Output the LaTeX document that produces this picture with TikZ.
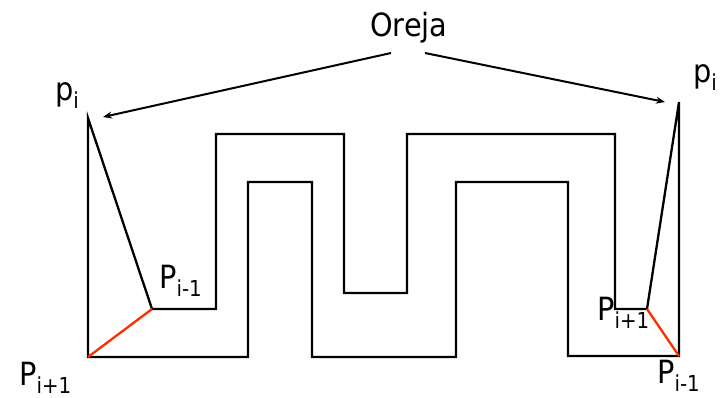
\documentclass[tikz,border=0pt]{standalone}
\usepackage{fontspec}
\setmainfont{DejaVu Sans Condensed}
\usetikzlibrary{arrows.meta}
\newcommand{\lblsub}[2]{#1\raisebox{-8pt}{\fontsize{22}{22}\selectfont #2}}
\definecolor{earred}{RGB}{255,45,0}
\begin{document}
\begin{tikzpicture}[x=1pt,y=-1pt,
  edge/.style={line width=2.3pt,line join=miter,line cap=rect},
  earedge/.style={line width=2.3pt,draw=earred},
  lbl/.style={anchor=base west,inner sep=0pt,font=\fontsize{32}{32}\selectfont},
  pointer/.style={line width=2pt,-{Stealth[length=9pt,width=7pt]}}]
\useasboundingbox (0,0) rectangle (723,397);
% vertices
\coordinate (LPn) at (88,357);
\coordinate (Lpi) at (88,118);
\coordinate (LPp) at (152,309);
\coordinate (a1) at (216,309);
\coordinate (a2) at (216,134);
\coordinate (a3) at (344,134);
\coordinate (a4) at (344,293);
\coordinate (a5) at (407,293);
\coordinate (a6) at (407,134);
\coordinate (a7) at (615,134);
\coordinate (a8) at (615,309);
\coordinate (RPn) at (647,309);
\coordinate (Rpi) at (679,102);
\coordinate (RPp) at (679,356);
\coordinate (b1) at (568,356);
\coordinate (b2) at (568,182);
\coordinate (b3) at (456,182);
\coordinate (b4) at (456,357);
\coordinate (b5) at (312,357);
\coordinate (b6) at (312,182);
\coordinate (b7) at (248,182);
\coordinate (b8) at (248,357);
% polygon
\draw[edge] (LPn) -- (Lpi) -- (LPp) -- (a1) -- (a2) -- (a3) -- (a4) -- (a5) -- (a6) -- (a7) -- (a8) -- (RPn) -- (Rpi) -- (RPp) -- (b1) -- (b2) -- (b3) -- (b4) -- (b5) -- (b6) -- (b7) -- (b8) -- cycle;
% ear diagonals
\draw[earedge] (LPn) -- (LPp);
\draw[earedge] (RPn) -- (RPp);
% labels
\node[lbl] (oreja) at (370,36) {Oreja};
\node[lbl] (lpi) at (55,100) {\lblsub{p}{i}};
\node[lbl] (rpi) at (693,82) {\lblsub{p}{i}};
\node[lbl] (lpp) at (159,288) {\lblsub{P}{i-1}};
\node[lbl] (lpn) at (19,385) {\lblsub{P}{i+1}};
\node[lbl] (rpn) at (597,320) {\lblsub{P}{i+1}};
\node[lbl] (rpp) at (657,383) {\lblsub{P}{i-1}};
% arrows
\coordinate (oL) at (391,53);
\coordinate (oR) at (425,53);
\coordinate (tL) at (103,117);
\coordinate (tR) at (665,102);
\draw[pointer] (oL) -- (tL);
\draw[pointer] (oR) -- (tR);
\end{tikzpicture}
\end{document}
